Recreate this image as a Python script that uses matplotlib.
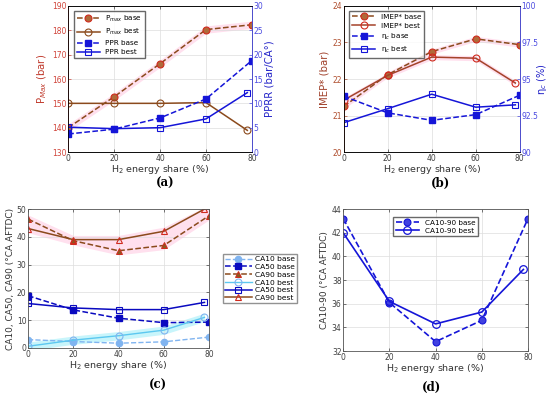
import matplotlib
matplotlib.use("Agg")
import matplotlib.pyplot as plt

# H2 energy share (%) -- "best" last point sits slightly left of 80
x_base = [0, 20, 40, 60, 80]
x_best = [0, 20, 40, 60, 78]

# (a) peak pressure and pressure rise rate
pmax_base = [140.0, 152.7, 166.3, 180.3, 182.3]
pmax_best = [150.0, 150.0, 150.0, 150.3, 138.9]
ppr_base = [3.7, 4.7, 7.0, 10.9, 18.8]
ppr_best = [5.1, 4.8, 5.0, 6.8, 12.2]

# (b) IMEP* and combustion efficiency
imep_base = [21.25, 22.12, 22.75, 23.10, 22.94]
imep_best = [21.42, 22.10, 22.60, 22.57, 21.89]
etac_base = [93.82, 92.68, 92.17, 92.56, 93.89]
etac_best = [92.01, 92.97, 93.96, 93.07, 93.23]

# (c) combustion phasing
ca10_base = [3.0, 2.3, 1.7, 2.2, 3.9]
ca50_base = [18.8, 13.7, 10.7, 9.1, 9.3]
ca90_base = [46.4, 38.6, 35.0, 36.9, 47.6]
ca10_best = [0.6, 2.8, 4.4, 6.4, 11.0]
ca50_best = [16.0, 14.4, 13.8, 13.8, 16.4]
ca90_best = [43.0, 39.0, 39.0, 42.0, 50.0]

# (d) combustion duration
ca1090_base = [43.2, 36.1, 32.8, 34.6, 43.2]
ca1090_best = [42.0, 36.2, 34.3, 35.3, 38.9]

BROWN = "#8b4a1c"
RED = "#d02a1e"
BLUE = "#1515d8"
LBLUE = "#80b4f0"
CYAN = "#5cc8f0"
PINK = "#ffe0ee"
LCYAN = "#c8f5fb"

TK = 5.5
LB = 6.8

plt.rcParams["font.family"] = ["DejaVu Sans"]
plt.rcParams["axes.linewidth"] = 0.6

fig = plt.figure(figsize=(5.5, 3.99), dpi=100)


def style(ax, ylim, yticks):
    ax.set_xlim(0, 80)
    ax.set_xticks([0, 20, 40, 60, 80])
    ax.set_ylim(*ylim)
    ax.set_yticks(yticks)
    ax.grid(True, color="#dddddd", lw=0.5)
    ax.set_axisbelow(True)
    ax.tick_params(direction="in", labelsize=TK, length=2, width=0.5, pad=1.2,
                   colors="#404040", top=True)
    for s in ax.spines.values():
        s.set_color("#555555")
    ax.set_xlabel("H$_2$ energy share (%)", fontsize=LB, color="#333333", labelpad=0.5)


def band(ax, x, a, b, pad, color):
    lo = [min(p, q) - pad for p, q in zip(a, b)]
    hi = [max(p, q) + pad for p, q in zip(a, b)]
    ax.fill_between(x, lo, hi, color=color, lw=0, zorder=0.5)


def colour_twin(ax, ax2, lc, rc):
    ax.tick_params(axis="y", colors=lc, right=False)
    ax.spines["left"].set_color(lc)
    ax2.tick_params(axis="y", direction="in", labelsize=TK, length=2, width=0.5,
                    pad=1.2, colors=rc)
    ax2.spines["right"].set_color(rc)


def panel_tag(x, y, s):
    fig.text(x, y, s, fontsize=8.5, family="DejaVu Serif", weight="bold",
             ha="center", va="center")


# ---- (a) ---------------------------------------------------------------
ax = fig.add_axes([0.124, 0.619, 0.334, 0.366])
ax2 = ax.twinx()
style(ax, (130, 190), range(130, 191, 10))
band(ax, x_base, pmax_base, pmax_base, 1.5, PINK)
ha = []
ha += ax.plot(x_base, pmax_base, "--", color=BROWN, lw=1.1, marker="o", ms=5,
              mfc="#b06a3a", mec=RED, mew=0.8, label="P$_{max}$ base")
ha += ax.plot(x_best, pmax_best, "-", color=BROWN, lw=1.1, marker="o", ms=5,
              mfc="none", mec=BROWN, mew=0.8, label="P$_{max}$ best")
ha += ax2.plot(x_base, ppr_base, "--", color=BLUE, lw=1.1, marker="s", ms=4,
               mfc=BLUE, mec=BLUE, label="PPR base")
ha += ax2.plot(x_best, ppr_best, "-", color=BLUE, lw=1.1, marker="s", ms=4,
               mfc="none", mec=BLUE, mew=0.8, label="PPR best")
ax2.set_ylim(0, 30)
ax2.set_yticks(range(0, 31, 5))
colour_twin(ax, ax2, "#d0443a", "#4a4ae0")
ax.set_ylabel("P$_{Max}$ (bar)", fontsize=LB + 0.5, color="#c0392b", labelpad=2)
ax2.set_ylabel("PPRR (bar/CA°)", fontsize=LB + 0.5, color="#2323c8", labelpad=1)
ax.legend(handles=ha, loc="upper left", fontsize=5.2, frameon=True, fancybox=False,
          edgecolor="#444444", handlelength=3.2, borderpad=0.4, labelspacing=0.4,
          bbox_to_anchor=(0.01, 0.99))
panel_tag(0.3, 0.541, "(a)")

# ---- (b) ---------------------------------------------------------------
ax = fig.add_axes([0.625, 0.619, 0.32, 0.366])
ax2 = ax.twinx()
style(ax, (20, 24), range(20, 25))
band(ax, x_base, imep_base, imep_base, 0.07, PINK)
band(ax, x_best, imep_best, imep_best, 0.07, PINK)
hb = []
hb += ax.plot(x_base, imep_base, "--", color=BROWN, lw=1.1, marker="o", ms=5,
              mfc="#b06a3a", mec=RED, mew=0.8, label="IMEP* base")
hb += ax.plot(x_best, imep_best, "-", color="#a4432a", lw=1.1, marker="o", ms=5,
              mfc="none", mec=RED, mew=0.8, label="IMEP* best")
hb += ax2.plot(x_base, etac_base, "--", color=BLUE, lw=1.1, marker="s", ms=4,
               mfc=BLUE, mec=BLUE, label="η$_c$ base")
hb += ax2.plot(x_best, etac_best, "-", color=BLUE, lw=1.1, marker="s", ms=4,
               mfc="none", mec=BLUE, mew=0.8, label="η$_c$ best")
ax2.set_ylim(90, 100)
ax2.set_yticks([90, 92.5, 95, 97.5, 100])
ax2.set_yticklabels(["90", "92.5", "95", "97.5", "100"])
colour_twin(ax, ax2, "#b05030", "#4a4ae0")
ax.set_ylabel("IMEP* (bar)", fontsize=LB + 0.5, color="#a0402a", labelpad=2)
ax2.set_ylabel("η$_c$ (%)", fontsize=LB + 0.3, color="#2323c8")
ax2.yaxis.set_label_coords(1.125, 0.5)
ax2.yaxis.label.set_horizontalalignment("center")
ax2.yaxis.label.set_verticalalignment("center")
ax.legend(handles=hb, loc="upper left", fontsize=5.2, frameon=True, fancybox=False,
          edgecolor="#444444", handlelength=3.2, borderpad=0.4, labelspacing=0.4,
          bbox_to_anchor=(0.01, 0.99))
panel_tag(0.8, 0.541, "(b)")

# ---- (c) ---------------------------------------------------------------
ax = fig.add_axes([0.051, 0.128, 0.329, 0.348])
style(ax, (0, 50), range(0, 51, 10))
ax.tick_params(top=True, right=True)
band(ax, x_base, ca90_base, ca90_best, 1.5, PINK)
band(ax, x_best, ca10_best, ca10_best, 1.5, LCYAN)
hc = []
hc += ax.plot(x_base, ca10_base, "--", color=LBLUE, lw=1.0, marker="o", ms=4.5,
              mfc=LBLUE, mec=LBLUE, label="CA10 base")
hc += ax.plot(x_base, ca50_base, "--", color="#0a0ac0", lw=1.1, marker="s", ms=4,
              mfc="#0a0ac0", mec="#0a0ac0", label="CA50 base")
hc += ax.plot(x_base, ca90_base, "--", color=BROWN, lw=1.1, marker="^", ms=5,
              mfc="#8b5a20", mec=RED, mew=0.7, label="CA90 base")
hc += ax.plot(x_best, ca10_best, "-", color=CYAN, lw=1.0, marker="o", ms=5,
              mfc="none", mec=LBLUE, mew=0.8, label="CA10 best")
hc += ax.plot(x_best, ca50_best, "-", color="#0a0ac0", lw=1.1, marker="s", ms=4,
              mfc="none", mec="#0a0ac0", mew=0.8, label="CA50 best")
hc += ax.plot(x_best, ca90_best, "-", color=BROWN, lw=1.1, marker="^", ms=5,
              mfc="none", mec=RED, mew=0.8, label="CA90 best")
ax.set_ylabel("CA10, CA50, CA90 (°CA AFTDC)", fontsize=LB - 0.3, color="#333333",
              labelpad=1)
ax.legend(handles=hc, loc="center left", bbox_to_anchor=(1.055, 0.5), fontsize=5.4,
          frameon=True, fancybox=False, edgecolor="#777777", handlelength=3.6,
          borderpad=0.3, labelspacing=0.2, handletextpad=0.4)
panel_tag(0.287, 0.035, "(c)")

# ---- (d) ---------------------------------------------------------------
ax = fig.add_axes([0.624, 0.12, 0.336, 0.356])
style(ax, (32, 44), range(32, 45, 2))
ax.tick_params(top=True, right=True)
hd = []
hd += ax.plot(x_base, ca1090_base, "--", color=BLUE, lw=1.2, marker="o", ms=5,
              mfc="#4040e0", mec=BLUE, mew=0.8, label="CA10-90 base")
hd += ax.plot(x_best, ca1090_best, "-", color=BLUE, lw=1.2, marker="o", ms=5.5,
              mfc="none", mec=BLUE, mew=0.9, label="CA10-90 best")
ax.set_ylabel("CA10-90 (°CA AFTDC)", fontsize=LB - 0.3, color="#333333", labelpad=2)
ax.legend(handles=hd, loc="upper center", bbox_to_anchor=(0.5, 0.97), fontsize=5.2,
          frameon=True, fancybox=False, edgecolor="#444444", handlelength=3.2,
          borderpad=0.35, labelspacing=0.3)
panel_tag(0.785, 0.028, "(d)")

fig.savefig("out.png", dpi=100)
